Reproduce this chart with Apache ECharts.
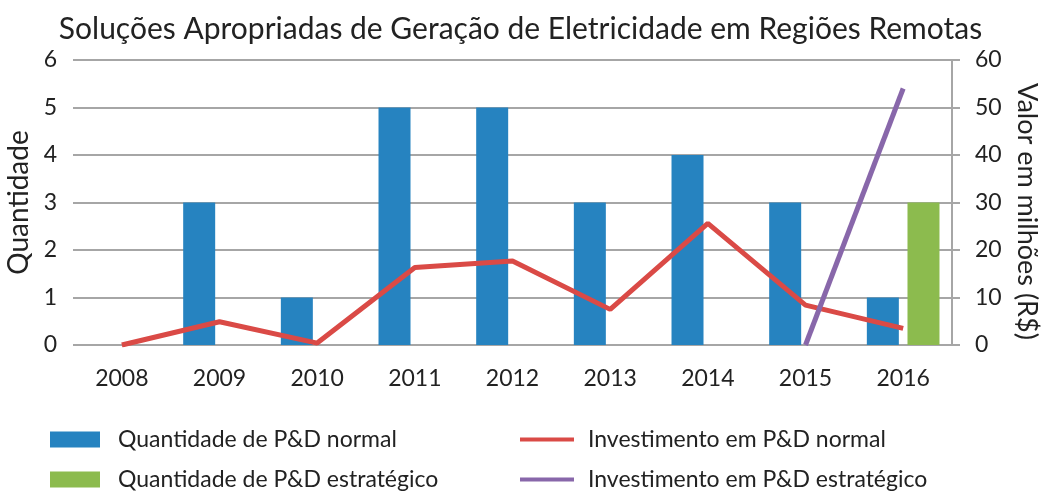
<!DOCTYPE html>
<html>
<head>
<meta charset="utf-8">
<script src="https://cdn.jsdelivr.net/npm/echarts@6/dist/echarts.min.js"></script>
<style>
  html, body { margin: 0; padding: 0; background: #fff; }
  #chart { width: 1041px; height: 491px; }
</style>
</head>
<body>
<div id="chart"></div>
<script>
// data
const years = ['2008', '2009', '2010', '2011', '2012', '2013', '2014', '2015', '2016'];
const qtdNormal = [0, 3, 1, 5, 5, 3, 4, 3, 1];
const qtdEstrategico = [null, null, null, null, null, null, null, null, 3];
const invNormal = [0, 4.9, 0.4, 16.3, 17.7, 7.5, 25.6, 8.4, 3.5];
const invEstrategico = [null, null, null, null, null, null, null, 0, 54];
const leftTicks = [0, 6, 1];   // min, max, interval
const rightTicks = [0, 60, 10];

const font = 'Lato';
const textColor = '#222';
const gridColor = '#a6a6a6';
const blue = '#2683c0', green = '#8cbb4e', red = '#da4a46', purple = '#8867aa';

const names = [
  'Quantidade de P&D normal',
  'Quantidade de P&D estratégico',
  'Investimento em P&D normal',
  'Investimento em P&D estratégico'
];

// one legend per entry, so the 2x2 layout is exact
function legendItem(name, left, top, isLine) {
  return {
    left: left,
    top: top,
    itemWidth: isLine ? 54 : 50,
    itemHeight: 16,
    icon: isLine ? 'path://M0,6 L54,6 L54,10 L0,10 Z' : 'rect',
    textStyle: { fontFamily: font, fontSize: 23, color: textColor, padding: [0, 0, 0, isLine ? 9 : 13] },
    data: [name]
  };
}

const chart = echarts.init(document.getElementById('chart'), null, { renderer: 'canvas' });

chart.setOption({
  animation: false,
  textStyle: { fontFamily: font },
  title: {
    text: 'Soluções Apropriadas de Geração de Eletricidade em Regiões Remotas',
    left: 'center',
    top: 9,
    textStyle: { fontFamily: font, fontSize: 30, fontWeight: 'normal', color: textColor }
  },
  grid: { left: 73, right: 89, top: 60, bottom: 146, containLabel: false, outerBoundsMode: 'none' },
  legend: [
    legendItem(names[0], 45, 423, false),
    legendItem(names[1], 45, 463, false),
    legendItem(names[2], 515, 423, true),
    legendItem(names[3], 515, 463, true)
  ],
  xAxis: {
    type: 'category',
    data: years,
    axisLine: { show: false },
    axisTick: { show: false },
    axisLabel: { fontFamily: font, fontSize: 23, color: textColor, margin: 22 }
  },
  yAxis: [
    {
      type: 'value',
      min: leftTicks[0],
      max: leftTicks[1],
      interval: leftTicks[2],
      name: 'Quantidade',
      nameLocation: 'middle',
      nameGap: 38,
      nameTextStyle: { fontFamily: font, fontSize: 28, color: textColor },
      axisLine: { show: false },
      axisTick: { show: false },
      axisLabel: { fontFamily: font, fontSize: 23, color: textColor, margin: 16 },
      splitLine: { lineStyle: { color: gridColor, width: 2 } }
    },
    {
      type: 'value',
      min: rightTicks[0],
      max: rightTicks[1],
      interval: rightTicks[2],
      name: 'Valor em milhões (R$)',
      nameLocation: 'middle',
      nameGap: 61,
      nameRotate: -90,
      nameTextStyle: { fontFamily: font, fontSize: 27, color: textColor, padding: [0, 0, 0, 18] },
      axisLine: { show: true, lineStyle: { color: gridColor, width: 2 } },
      axisTick: { show: true, length: 8, lineStyle: { color: gridColor, width: 2 } },
      axisLabel: { fontFamily: font, fontSize: 23, color: textColor, margin: 23 },
      splitLine: { show: false }
    }
  ],
  series: [
    {
      name: names[0],
      type: 'bar',
      data: qtdNormal,
      barWidth: 32,
      barGap: '27%',
      itemStyle: { color: blue }
    },
    {
      name: names[1],
      type: 'bar',
      data: qtdEstrategico,
      barWidth: 32,
      barGap: '27%',
      itemStyle: { color: green }
    },
    {
      name: names[2],
      type: 'line',
      yAxisIndex: 1,
      data: invNormal,
      showSymbol: false,
      symbol: 'none',
      lineStyle: { color: red, width: 5 },
      itemStyle: { color: red }
    },
    {
      name: names[3],
      type: 'line',
      yAxisIndex: 1,
      data: invEstrategico,
      showSymbol: false,
      symbol: 'none',
      lineStyle: { color: purple, width: 5 },
      itemStyle: { color: purple }
    }
  ]
});
</script>
</body>
</html>
